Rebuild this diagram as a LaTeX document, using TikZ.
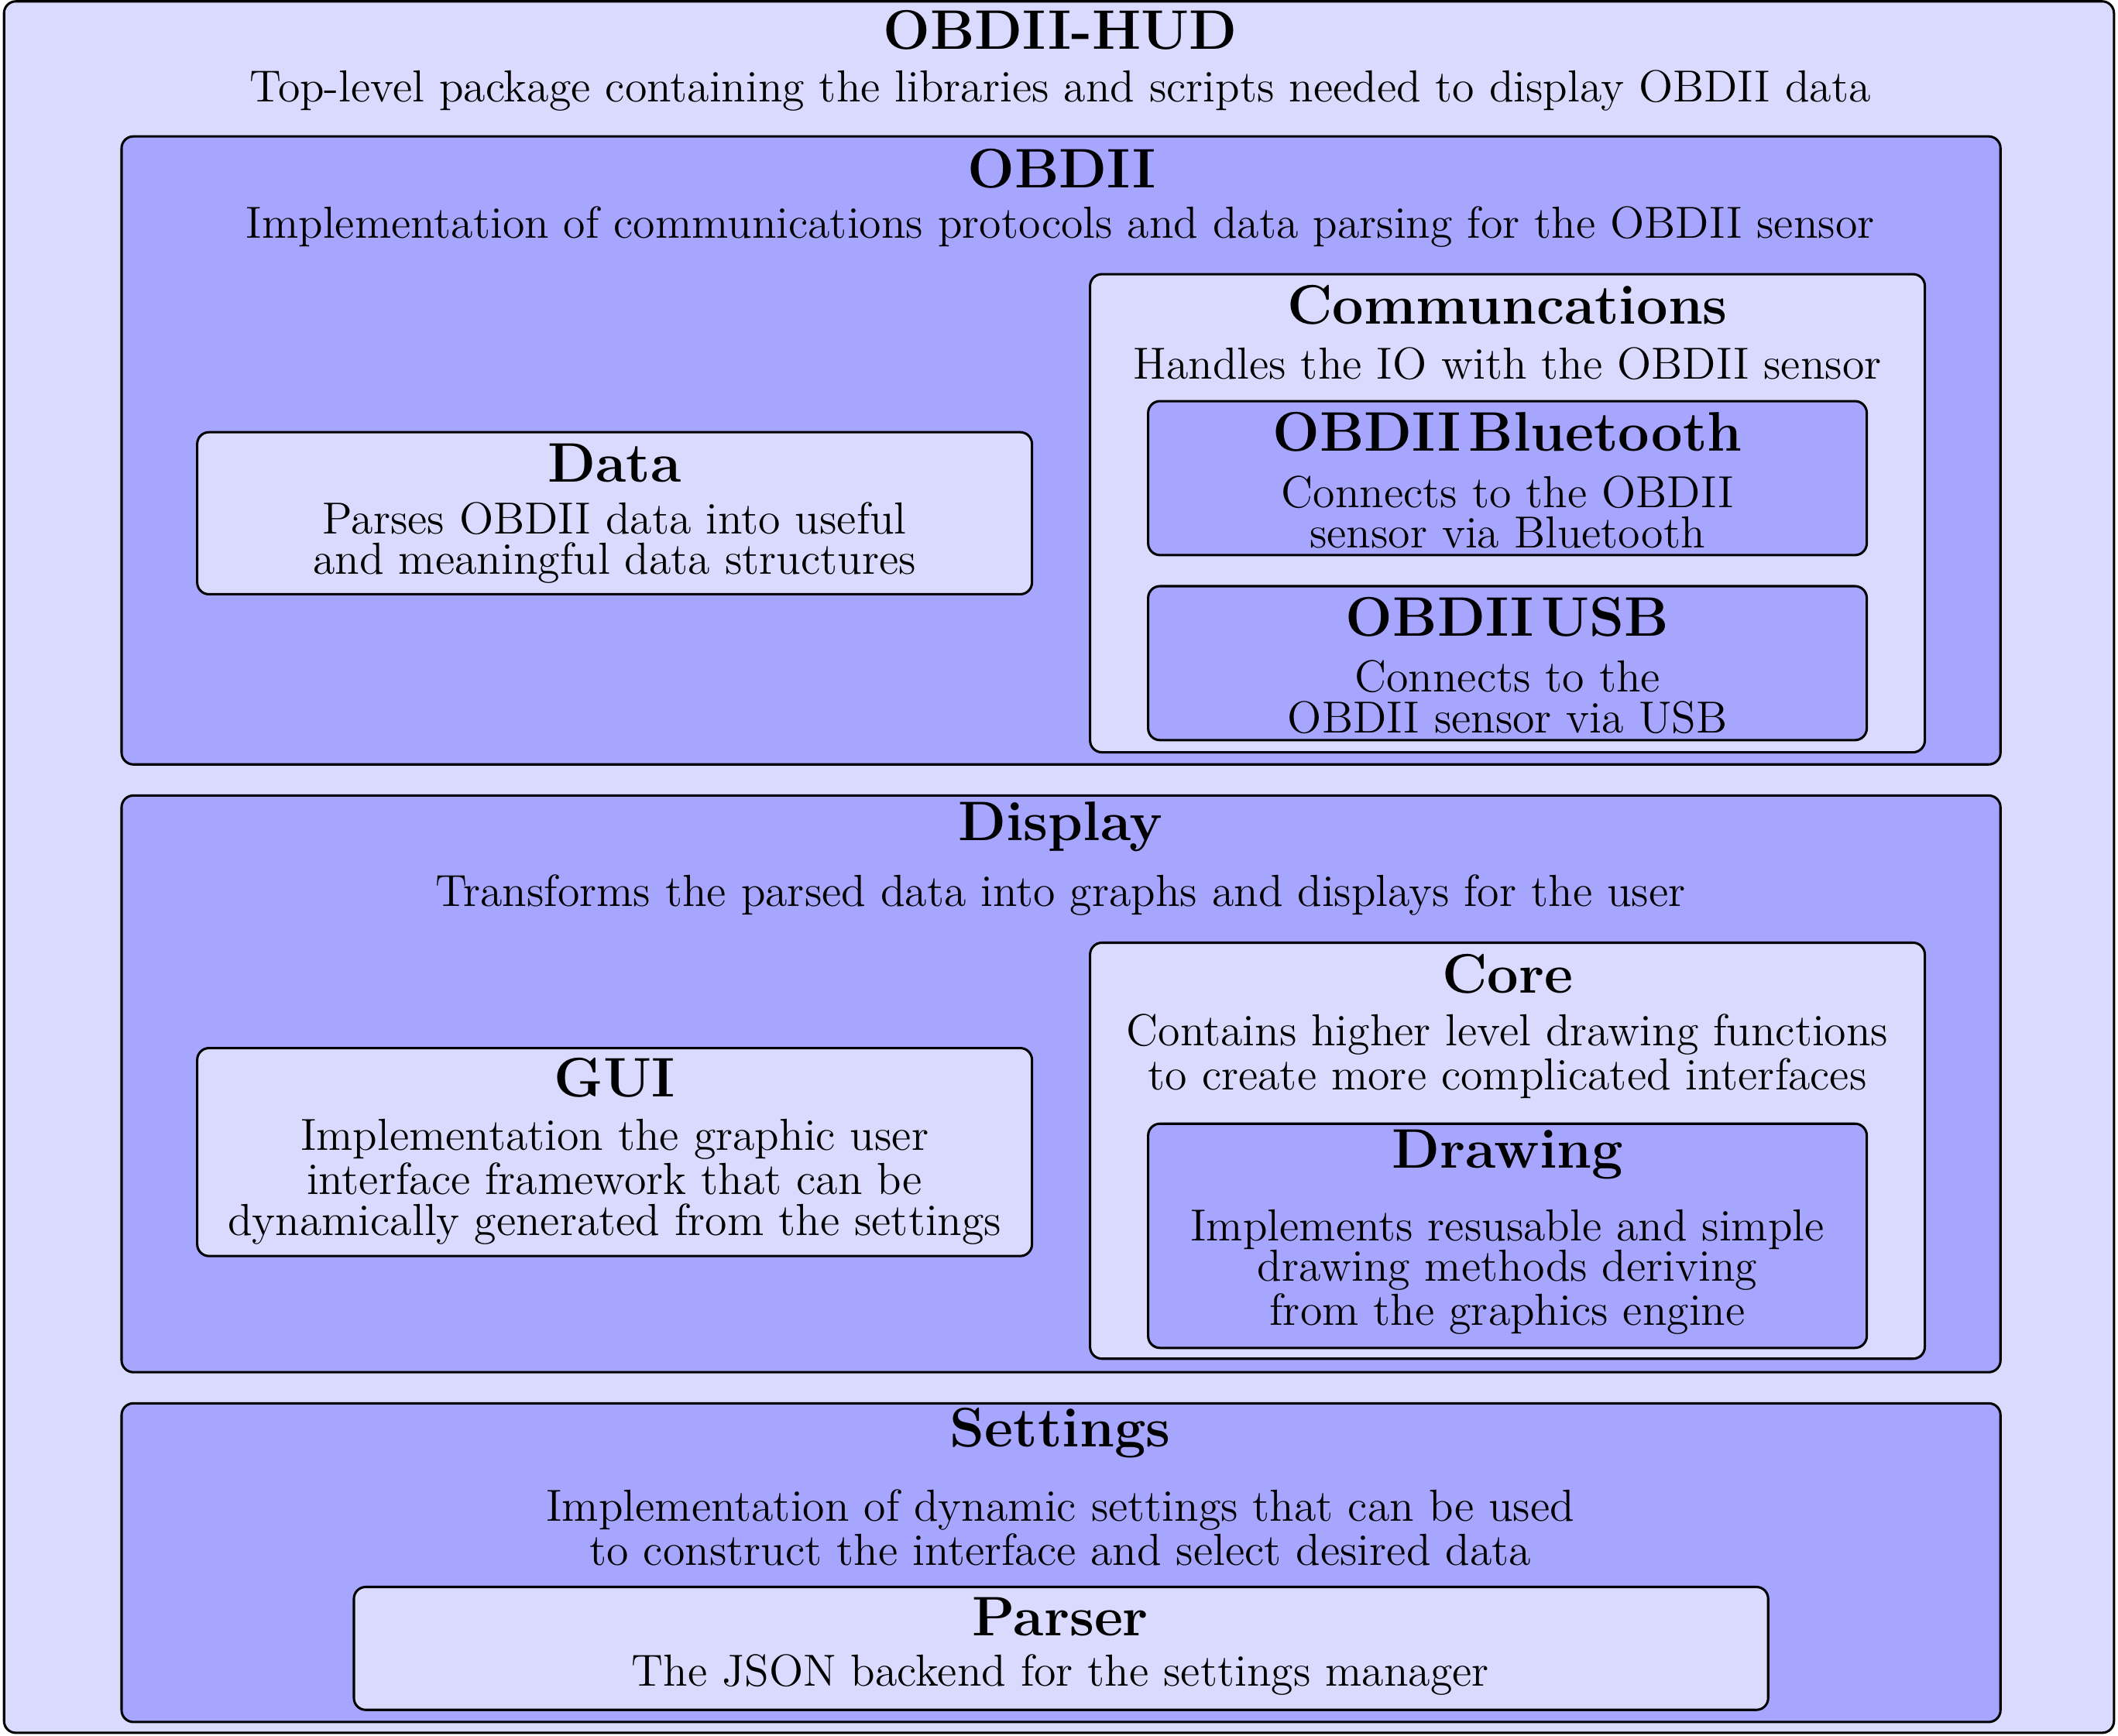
\documentclass[tikz,border=0pt]{standalone}
\usepackage{fontspec}
\usetikzlibrary{fit}
\definecolor{pkglight}{RGB}{218,218,255}
\definecolor{pkgmid}{RGB}{166,166,255}
\newcommand\pkgtitlefont{\fontsize{16.5}{12}\selectfont\bfseries\spaceskip=0.14em\relax}
\tikzset{
  pkgbox/.style={draw=black, line width=0.7pt, rounded corners=3.5pt, inner sep=0pt},
  lightbox/.style={pkgbox, fill=pkglight},
  midbox/.style={pkgbox, fill=pkgmid},
  ttl/.style={font=\pkgtitlefont, inner sep=0pt},
  dsc/.style={font=\fontsize{13.3}{12}\selectfont, align=center, inner sep=0pt},
}
\begin{document}
\begin{tikzpicture}[x=0.4pt, y=-0.4pt]
\useasboundingbox (0,0) rectangle (1568,1285);
% outer package
\node[lightbox, fit={(3,1) (1565,1283)}] (hud) {};
\node[ttl] (hudT) at (785,22) {OBDII-HUD};
\node[dsc] (hudD) at (785,67) {Top-level package containing the libraries and scripts needed to display OBDII data};
% OBDII
\node[midbox, fit={(90,101) (1481,566)}] (obd) {};
\node[ttl] (obdT) at (786,125) {OBDII};
\node[dsc] (obdD) at (785,168) {Implementation of communications protocols and data parsing for the OBDII sensor};
\node[lightbox, fit={(146,320) (764,440)}] (data) {};
\node[ttl] (dataT) at (455,343) {Data};
\node[dsc] (dataD) at (455,402) {Parses OBDII data into useful\\and meaningful data structures};
\node[lightbox, fit={(807,203) (1425,557)}] (comm) {};
\node[ttl] (commT) at (1116,226) {Communcations};
\node[dsc] (commD) at (1116,269) {Handles the IO with the OBDII sensor};
\node[midbox, fit={(850,297) (1382,411)}] (bt) {};
\node[ttl] (btT) at (1116,320) {OBDII Bluetooth};
\node[dsc] (btD) at (1116,379) {Connects to the OBDII\\sensor via Bluetooth};
\node[midbox, fit={(850,434) (1382,548)}] (usb) {};
\node[ttl] (usbT) at (1116,457) {OBDII USB};
\node[dsc] (usbD) at (1116,516) {Connects to the\\OBDII sensor via USB};
% Display
\node[midbox, fit={(90,589) (1481,1016)}] (disp) {};
\node[ttl] (dispT) at (785,612) {Display};
\node[dsc] (dispD) at (785,663) {Transforms the parsed data into graphs and displays for the user};
\node[lightbox, fit={(146,776) (764,930)}] (gui) {};
\node[ttl] (guiT) at (455,798) {GUI};
\node[dsc] (guiD) at (455,875) {Implementation the graphic user\\interface framework that can be\\dynamically generated from the settings};
\node[lightbox, fit={(807,698) (1425,1006)}] (core) {};
\node[ttl] (coreT) at (1116,721) {Core};
\node[dsc] (coreD) at (1116,782) {Contains higher level drawing functions\\to create more complicated interfaces};
\node[midbox, fit={(850,832) (1382,998)}] (draw) {};
\node[ttl] (drawT) at (1116,855) {Drawing};
\node[dsc] (drawD) at (1116,942) {Implements resusable and simple\\drawing methods deriving\\from the graphics engine};
% Settings
\node[midbox, fit={(90,1039) (1481,1275)}] (set) {};
\node[ttl] (setT) at (785,1061) {Settings};
\node[dsc] (setD) at (785,1131) {Implementation of dynamic settings that can be used\\to construct the interface and select desired data};
\node[lightbox, fit={(262,1175) (1309,1266)}] (parse) {};
\node[ttl] (parseT) at (785,1197) {Parser};
\node[dsc] (parseD) at (785,1240) {The JSON backend for the settings manager};
\end{tikzpicture}
\end{document}
